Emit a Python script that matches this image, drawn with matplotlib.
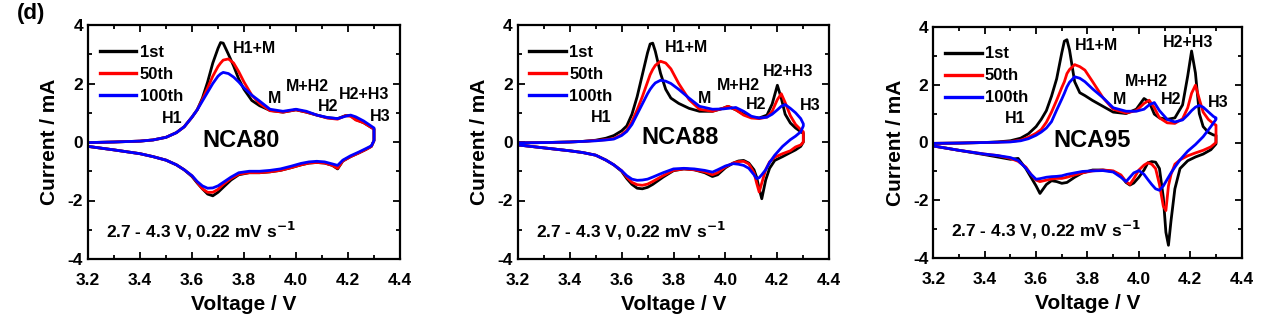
import matplotlib
matplotlib.use("Agg")
from matplotlib import pyplot as plt
from matplotlib.ticker import MultipleLocator, FormatStrFormatter

plt.rcParams['font.family'] = ['Liberation Sans', 'DejaVu Sans']
plt.rcParams['axes.unicode_minus'] = False

cycles = ['1st', '50th', '100th']
colors = ['black', 'red', 'blue']

# ---------------- NCA80 ----------------
v_ox_80 = [3.2, 3.3, 3.4, 3.45, 3.5, 3.54, 3.57, 3.6, 3.62, 3.64, 3.66, 3.68, 3.7, 3.71, 3.72, 3.74,
           3.76, 3.78, 3.8, 3.83, 3.86, 3.9, 3.95, 4.0, 4.04, 4.08, 4.12, 4.16, 4.19, 4.21, 4.23,
           4.26, 4.28, 4.3]
i_ox_80_1st = [-0.02, 0.0, 0.03, 0.07, 0.16, 0.32, 0.52, 0.85, 1.1, 1.5, 2.05, 2.7, 3.2, 3.4, 3.38, 3.0,
               2.6, 2.15, 1.8, 1.42, 1.24, 1.08, 1.02, 1.1, 1.02, 0.92, 0.83, 0.8, 0.9, 0.9, 0.77,
               0.66, 0.55, 0.44]
i_ox_80_50th = [-0.02, 0.0, 0.03, 0.07, 0.16, 0.32, 0.52, 0.85, 1.1, 1.45, 1.85, 2.25, 2.58, 2.7, 2.8, 2.84,
                2.7, 2.4, 2.05, 1.6, 1.32, 1.07, 1.02, 1.1, 1.02, 0.92, 0.82, 0.78, 0.9, 0.88, 0.75,
                0.66, 0.55, 0.44]
i_ox_80_100th = [-0.02, 0.0, 0.03, 0.07, 0.16, 0.32, 0.52, 0.85, 1.1, 1.4, 1.7, 2.0, 2.25, 2.33, 2.38, 2.34,
                 2.22, 2.05, 1.85, 1.6, 1.4, 1.12, 1.05, 1.12, 1.05, 0.92, 0.84, 0.8, 0.88, 0.92, 0.86,
                 0.72, 0.6, 0.48]
v_red_80 = [4.3, 4.3, 4.29, 4.27, 4.24, 4.21, 4.18, 4.16, 4.14, 4.11, 4.08, 4.05, 4.02, 3.98, 3.94, 3.9,
            3.86, 3.82, 3.78, 3.75, 3.72, 3.7, 3.68, 3.66, 3.64, 3.62, 3.6, 3.57, 3.54, 3.5, 3.45,
            3.4, 3.3, 3.2]
i_red_80_1st = [0.44, 0.05, -0.15, -0.25, -0.38, -0.5, -0.65, -0.92, -0.8, -0.72, -0.7, -0.72, -0.78, -0.88, -0.97, -1.02,
                -1.05, -1.05, -1.12, -1.3, -1.55, -1.72, -1.84, -1.78, -1.6, -1.4, -1.18, -0.95, -0.78, -0.62, -0.5,
                -0.4, -0.27, -0.15]
i_red_80_50th = [0.44, 0.05, -0.15, -0.25, -0.38, -0.5, -0.65, -0.9, -0.8, -0.72, -0.7, -0.72, -0.78, -0.88, -0.97, -1.02,
                 -1.05, -1.05, -1.1, -1.25, -1.45, -1.62, -1.72, -1.72, -1.6, -1.38, -1.16, -0.95, -0.78, -0.62, -0.5,
                 -0.4, -0.27, -0.15]
i_red_80_100th = [0.48, 0.05, -0.13, -0.22, -0.35, -0.47, -0.62, -0.8, -0.75, -0.68, -0.66, -0.68, -0.73, -0.83, -0.92, -0.97,
                  -1.0, -1.0, -1.05, -1.2, -1.38, -1.5, -1.57, -1.58, -1.5, -1.35, -1.15, -0.95, -0.78, -0.62, -0.5,
                  -0.4, -0.27, -0.15]

# ---------------- NCA88 ----------------
v_ox_88 = [3.2, 3.3, 3.4, 3.45, 3.5, 3.54, 3.57, 3.6, 3.62, 3.64, 3.66, 3.68, 3.7, 3.71, 3.72, 3.73,
           3.75, 3.77, 3.79, 3.82, 3.86, 3.9, 3.95, 3.99, 4.01, 4.04, 4.07, 4.1, 4.13, 4.16, 4.18,
           4.2, 4.215, 4.23, 4.25, 4.27, 4.29, 4.3]
i_ox_88_1st = [-0.03, -0.02, 0.0, 0.02, 0.06, 0.13, 0.22, 0.38, 0.55, 0.95, 1.55, 2.3, 3.05, 3.35, 3.38, 3.1,
               2.35, 1.8, 1.5, 1.32, 1.15, 1.05, 1.05, 1.15, 1.22, 1.1, 0.95, 0.85, 0.82, 0.92, 1.3,
               1.94, 1.5, 0.95, 0.65, 0.48, 0.35, 0.3]
i_ox_88_50th = [-0.03, -0.02, 0.0, 0.02, 0.05, 0.08, 0.12, 0.25, 0.4, 0.7, 1.1, 1.55, 2.05, 2.3, 2.48, 2.62,
                2.76, 2.7, 2.5, 2.0, 1.45, 1.12, 1.05, 1.15, 1.22, 1.1, 0.92, 0.82, 0.8, 0.85, 1.05,
                1.45, 1.65, 1.35, 0.9, 0.6, 0.42, 0.35]
i_ox_88_100th = [-0.03, -0.02, 0.0, 0.02, 0.04, 0.07, 0.1, 0.22, 0.36, 0.6, 0.95, 1.3, 1.65, 1.8, 1.92, 2.02,
                 2.11, 2.08, 2.0, 1.8, 1.5, 1.22, 1.12, 1.13, 1.15, 1.18, 1.05, 0.88, 0.82, 0.85, 0.95,
                 1.1, 1.22, 1.28, 1.15, 1.0, 0.8, 0.62]
v_red_88 = [4.3, 4.3, 4.29, 4.27, 4.25, 4.22, 4.19, 4.17, 4.155, 4.14, 4.13, 4.12, 4.11, 4.09, 4.07, 4.05,
            4.03, 4.0, 3.97, 3.95, 3.92, 3.88, 3.84, 3.8, 3.76, 3.72, 3.7, 3.68, 3.66, 3.64, 3.62,
            3.6, 3.57, 3.54, 3.5, 3.45, 3.4, 3.3, 3.2]
i_red_88_1st = [0.3, 0.0, -0.15, -0.27, -0.36, -0.5, -0.63, -0.9, -1.3, -1.94, -1.6, -1.2, -0.95, -0.72, -0.63, -0.65,
                -0.72, -0.88, -1.12, -1.18, -1.05, -0.95, -0.92, -0.98, -1.2, -1.45, -1.55, -1.6, -1.58, -1.45, -1.25,
                -1.0, -0.78, -0.62, -0.45, -0.36, -0.3, -0.2, -0.1]
i_red_88_50th = [0.35, 0.0, -0.1, -0.17, -0.3, -0.4, -0.52, -0.68, -0.95, -1.4, -1.71, -1.4, -1.05, -0.75, -0.66, -0.67,
                 -0.72, -0.85, -1.05, -1.12, -1.02, -0.95, -0.92, -0.97, -1.15, -1.35, -1.44, -1.48, -1.46, -1.38, -1.2,
                 -0.98, -0.78, -0.62, -0.45, -0.36, -0.3, -0.2, -0.1]
i_red_88_100th = [0.62, 0.55, 0.35, 0.2, 0.08, -0.15, -0.45, -0.7, -0.95, -1.12, -1.22, -1.25, -1.12, -0.9, -0.8, -0.76,
                  -0.74, -0.82, -0.95, -1.03, -0.97, -0.92, -0.9, -0.92, -1.05, -1.2, -1.27, -1.3, -1.31, -1.27, -1.15,
                  -0.98, -0.78, -0.62, -0.45, -0.36, -0.3, -0.2, -0.1]

# ---------------- NCA95 ----------------
v_ox_95 = [3.2, 3.3, 3.4, 3.45, 3.5, 3.54, 3.57, 3.6, 3.62, 3.64, 3.66, 3.68, 3.7, 3.71, 3.72, 3.73,
           3.75, 3.77, 3.79, 3.82, 3.86, 3.9, 3.95, 3.99, 4.02, 4.04, 4.06, 4.08, 4.11, 4.14, 4.17,
           4.19, 4.205, 4.22, 4.235, 4.25, 4.27, 4.29, 4.3]
i_ox_95_1st = [-0.03, -0.02, 0.0, 0.02, 0.06, 0.15, 0.3, 0.55, 0.8, 1.1, 1.6, 2.2, 3.1, 3.5, 3.55, 3.2,
               2.1, 1.72, 1.62, 1.45, 1.25, 1.05, 1.0, 1.15, 1.52, 1.4, 0.98, 0.85, 0.8, 0.85, 1.3,
               2.3, 3.16, 2.4, 1.0, 0.55, 0.35, 0.26, 0.25]
i_ox_95_50th = [-0.03, -0.02, 0.0, 0.01, 0.03, 0.08, 0.18, 0.32, 0.45, 0.7, 1.05, 1.46, 1.9, 2.1, 2.38, 2.52,
                2.69, 2.62, 2.5, 2.1, 1.55, 1.15, 1.02, 1.1, 1.35, 1.46, 1.2, 0.85, 0.68, 0.66, 0.82,
                1.2, 1.7, 1.98, 1.5, 1.05, 0.8, 0.65, 0.6]
i_ox_95_100th = [-0.03, -0.02, 0.0, 0.01, 0.02, 0.06, 0.13, 0.25, 0.36, 0.5, 0.72, 1.12, 1.5, 1.7, 1.92, 2.08,
                 2.27, 2.22, 2.1, 1.85, 1.55, 1.2, 1.08, 1.08, 1.15, 1.3, 1.38, 1.1, 0.8, 0.71, 0.78,
                 0.95, 1.1, 1.22, 1.28, 1.22, 1.06, 0.9, 0.85]
v_red_95 = [4.3, 4.3, 4.28, 4.25, 4.22, 4.19, 4.16, 4.14, 4.125, 4.115, 4.105, 4.095, 4.08, 4.065, 4.05, 4.035,
            4.02, 4.0, 3.98, 3.965, 3.95, 3.93, 3.9, 3.86, 3.82, 3.78, 3.75, 3.72, 3.7, 3.68, 3.66,
            3.64, 3.615, 3.6, 3.58, 3.56, 3.53, 3.5, 3.45, 3.4, 3.3, 3.2]
i_red_95_1st = [0.25, -0.05, -0.25, -0.4, -0.5, -0.63, -0.9, -1.6, -2.7, -3.55, -3.1, -1.9, -0.9, -0.68, -0.66, -0.7,
                -0.95, -1.2, -1.4, -1.47, -1.38, -1.15, -1.0, -0.95, -0.95, -1.05, -1.2, -1.38, -1.41, -1.35, -1.32,
                -1.45, -1.76, -1.5, -1.2, -0.9, -0.55, -0.58, -0.5, -0.42, -0.27, -0.12]
i_red_95_50th = [0.6, 0.0, -0.15, -0.27, -0.36, -0.46, -0.6, -0.75, -1.1, -1.5, -2.35, -2.2, -1.45, -0.9, -0.75, -0.7,
                 -0.78, -0.95, -1.25, -1.45, -1.35, -1.12, -0.98, -0.95, -0.98, -1.05, -1.12, -1.2, -1.24, -1.24, -1.26,
                 -1.3, -1.35, -1.3, -1.1, -0.85, -0.65, -0.55, -0.45, -0.4, -0.27, -0.12]
i_red_95_100th = [0.85, 0.8, 0.55, 0.2, -0.07, -0.3, -0.6, -0.85, -1.05, -1.2, -1.35, -1.5, -1.65, -1.6, -1.45, -1.28,
                  -1.1, -0.97, -1.05, -1.2, -1.35, -1.2, -1.02, -0.97, -0.98, -1.0, -1.05, -1.1, -1.15, -1.17, -1.18,
                  -1.2, -1.25, -1.27, -1.1, -0.88, -0.62, -0.52, -0.45, -0.4, -0.27, -0.12]

panels = [
    ('NCA80', v_ox_80, [i_ox_80_1st, i_ox_80_50th, i_ox_80_100th],
     v_red_80, [i_red_80_1st, i_red_80_50th, i_red_80_100th]),
    ('NCA88', v_ox_88, [i_ox_88_1st, i_ox_88_50th, i_ox_88_100th],
     v_red_88, [i_red_88_1st, i_red_88_50th, i_red_88_100th]),
    ('NCA95', v_ox_95, [i_ox_95_1st, i_ox_95_50th, i_ox_95_100th],
     v_red_95, [i_red_95_1st, i_red_95_50th, i_red_95_100th]),
]

# peak labels (text, V, I) for each panel
peak_labels = [
    [('H1', 3.522, 0.82), ('H1+M', 3.842, 3.2), ('M', 3.919, 1.5), ('M+H2', 4.044, 1.9),
     ('H2', 4.125, 1.22), ('H2+H3', 4.262, 1.62), ('H3', 4.323, 0.88)],
    [('H1', 3.523, 0.83), ('H1+M', 3.851, 3.22), ('M', 3.921, 1.5), ('M+H2', 4.05, 1.92),
     ('H2', 4.12, 1.29), ('H2+H3', 4.242, 2.42), ('H3', 4.325, 1.25)],
    [('H1', 3.518, 0.83), ('H1+M', 3.836, 3.36), ('M', 3.924, 1.5), ('M+H2', 4.028, 2.12),
     ('H2', 4.125, 1.5), ('H2+H3', 4.19, 3.44), ('H3', 4.309, 1.37)],
]
name_pos = [(3.79, 0.04), (3.825, 0.14), (3.816, 0.08)]

axes_rects = [
    [88 / 1268, 70 / 329, 312 / 1268, 234 / 329],
    [517.7 / 1268, 70 / 329, 311.6 / 1268, 234 / 329],
    [933.3 / 1268, 70.7 / 329, 308.4 / 1268, 231.6 / 329],
]

fig = plt.figure(figsize=(12.68, 3.29), dpi=100)

for k, (name, v_ox, i_ox, v_red, i_red) in enumerate(panels):
    ax = fig.add_axes(axes_rects[k])
    for c in range(3):
        ax.plot(v_ox + v_red, i_ox[c] + i_red[c], color=colors[c], lw=2.0,
                label=cycles[c], solid_joinstyle='round')

    ax.set_xlim(3.2, 4.4)
    ax.set_ylim(-4, 4)
    ax.xaxis.set_major_locator(MultipleLocator(0.2))
    ax.xaxis.set_minor_locator(MultipleLocator(0.1))
    ax.yaxis.set_major_locator(MultipleLocator(2))
    ax.yaxis.set_minor_locator(MultipleLocator(1))
    ax.xaxis.set_major_formatter(FormatStrFormatter('%.1f'))
    ax.tick_params(which='both', direction='in', top=True, right=True, width=1.3)
    ax.tick_params(which='major', length=5, labelsize=12.5)
    ax.tick_params(axis='x', which='major', pad=10)
    ax.tick_params(axis='y', which='major', pad=3.5)
    ax.tick_params(which='minor', length=3)
    for lab in ax.get_xticklabels() + ax.get_yticklabels():
        lab.set_fontweight('bold')
    for sp in ax.spines.values():
        sp.set_linewidth(1.6)

    ax.set_xlabel('Voltage / V', fontsize=15, fontweight='bold', labelpad=5)
    ax.set_ylabel('Current / mA', fontsize=15, fontweight='bold', labelpad=6)

    leg = ax.legend(loc='upper left', bbox_to_anchor=(0.0, 0.965), frameon=False,
                    handlelength=2.2, handletextpad=0.2, labelspacing=0.42,
                    borderaxespad=0.3, prop={'weight': 'bold', 'size': 12})
    for line in leg.get_lines():
        line.set_linewidth(2.4)

    for txt, x, y in peak_labels[k]:
        ax.text(x, y, txt, ha='center', va='center', fontsize=11.5, fontweight='bold')
    ax.text(name_pos[k][0], name_pos[k][1], name, ha='center', va='center',
            fontsize=17, fontweight='bold')
    ax.text(3.27, -3.03, r'2.7 - 4.3 V, 0.22 mV s$^{\mathbf{-1}}$', ha='left', va='center',
            fontsize=12.5, fontweight='bold')

fig.text(31 / 1268, 1 - 14 / 329, '(d)', ha='center', va='center', fontsize=16, fontweight='bold')

fig.savefig('out.png', dpi=100)
